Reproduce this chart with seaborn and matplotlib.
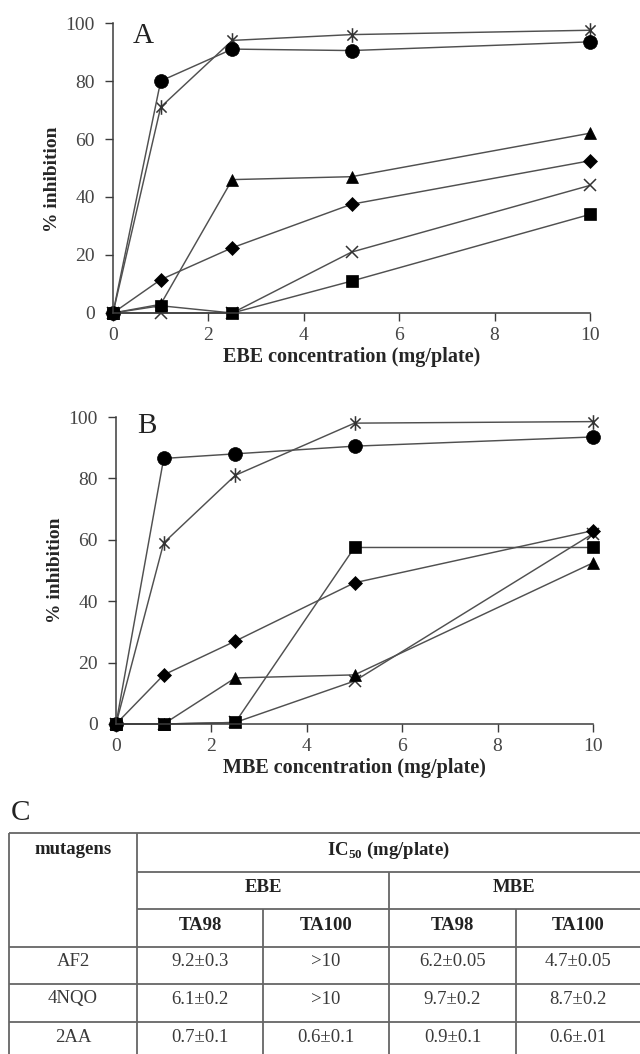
import matplotlib
matplotlib.use("Agg")
import matplotlib.pyplot as plt
from matplotlib.path import Path
import seaborn as sns

# --- data ---
conc = [0, 1, 2.5, 5, 10]

# panel A: EBE (% inhibition)
ebe_af2_ta98 = [0, 11.5, 22.5, 37.5, 52.5]
ebe_af2_ta100 = [0, 2.5, 0, 11, 34]
ebe_4nqo_ta98 = [0, 3, 46, 47, 62]
ebe_4nqo_ta100 = [0, 0, 0, 21, 44]
ebe_2aa_ta98 = [0, 71, 94, 96, 97.5]
ebe_2aa_ta100 = [0, 80, 91, 90.5, 93.5]

# panel B: MBE (% inhibition)
mbe_af2_ta98 = [0, 16, 27, 46, 63]
mbe_af2_ta100 = [0, 0, 0.5, 57.5, 57.5]
mbe_4nqo_ta98 = [0, 0, 15, 16, 52.5]
mbe_4nqo_ta100 = [0, 0, 0.5, 14, 62]
mbe_2aa_ta98 = [0, 59, 81, 98, 98.5]
mbe_2aa_ta100 = [0, 86.5, 88, 90.5, 93.5]

# panel C: IC50 table
mutagens = ["AF2", "4NQO", "2AA"]
ic50_ebe_ta98 = ["9.2\u00b10.3", "6.1\u00b10.2", "0.7\u00b10.1"]
ic50_ebe_ta100 = [">10", ">10", "0.6\u00b10.1"]
ic50_mbe_ta98 = ["6.2\u00b10.05", "9.7\u00b10.2", "0.9\u00b10.1"]
ic50_mbe_ta100 = ["4.7\u00b10.05", "8.7\u00b10.2", "0.6\u00b1.01"]

# --- style ---
sns.set_style("ticks")
plt.rcParams["font.family"] = ["Liberation Serif", "DejaVu Serif"]
plt.rcParams["mathtext.fontset"] = "custom"
plt.rcParams["mathtext.rm"] = "Liberation Serif"
plt.rcParams["mathtext.bf"] = "Liberation Serif:bold"

LINE = "#505050"
SPINE = "#3c3c3c"
TICKC = "#454545"

# excel-like star: vertical bar plus an x
star = Path([(0, -1), (0, 1), (-0.7, -0.7), (0.7, 0.7), (-0.7, 0.7), (0.7, -0.7)],
            [Path.MOVETO, Path.LINETO] * 3)

marker_style = {
    "4nqo_ta100": dict(marker="x", ms=8.5, mfc="none", mec="#333333", mew=1.1),
    "4nqo_ta98": dict(marker="^", ms=9, mfc="black", mec="black", mew=0.5),
    "af2_ta98": dict(marker="D", ms=7.2, mfc="black", mec="black", mew=0.5),
    "af2_ta100": dict(marker="s", ms=8.8, mfc="black", mec="black", mew=0.5),
    "2aa_ta98": dict(marker=star, ms=10.5, mfc="none", mec="#333333", mew=1.1),
    "2aa_ta100": dict(marker="o", ms=10, mfc="black", mec="black", mew=0.5),
}

panel_a = {"4nqo_ta100": ebe_4nqo_ta100, "4nqo_ta98": ebe_4nqo_ta98,
           "af2_ta98": ebe_af2_ta98, "af2_ta100": ebe_af2_ta100,
           "2aa_ta98": ebe_2aa_ta98, "2aa_ta100": ebe_2aa_ta100}
panel_b = {"4nqo_ta100": mbe_4nqo_ta100, "4nqo_ta98": mbe_4nqo_ta98,
           "af2_ta98": mbe_af2_ta98, "af2_ta100": mbe_af2_ta100,
           "2aa_ta98": mbe_2aa_ta98, "2aa_ta100": mbe_2aa_ta100}


def draw_panel(ax, series, xlabel, letter, letter_pos, ylab_y):
    for key, vals in series.items():
        sns.lineplot(x=conc, y=vals, ax=ax, color=LINE, lw=1.05,
                     clip_on=False, legend=False, errorbar=None,
                     **marker_style[key])
    ax.set_xlim(0, 10)
    ax.set_ylim(0, 100)
    ax.set_xticks(range(0, 11, 2))
    ax.set_yticks(range(0, 101, 20))
    sns.despine(ax=ax)
    for s in ("left", "bottom"):
        ax.spines[s].set_color(SPINE)
        ax.spines[s].set_linewidth(1.1)
    ax.tick_params(direction="out", length=6, width=1, color=SPINE,
                   labelcolor=TICKC, labelsize=14)
    ax.tick_params(axis="y", pad=7)
    ax.tick_params(axis="x", pad=4)
    ax.set_xlabel(xlabel, fontsize=14.5, fontweight="bold", labelpad=2)
    ax.set_ylabel("% inhibition", fontsize=14, fontweight="bold")
    ax.yaxis.set_label_coords(-0.108, ylab_y)
    ax.text(letter_pos[0], letter_pos[1], letter, transform=ax.transAxes,
            fontsize=21, ha="center", va="center", color="#222222")


fig = plt.figure(figsize=(6.4, 10.54), dpi=100)
W, H = 640, 1054
axA = fig.add_axes([113 / W, 1 - 313 / H, 477 / W, 290 / H])
axB = fig.add_axes([116 / W, 1 - 724 / H, 477 / W, 307 / H])

draw_panel(axA, panel_a, "EBE concentration (mg/plate)", "A", (0.063, 0.955), 0.46)
draw_panel(axB, panel_b, "MBE concentration (mg/plate)", "B", (0.065, 0.972), 0.5)

# --- table (pixel-like coordinates) ---
axT = fig.add_axes([0, 0, 1, 254 / H])
axT.set_xlim(0, W)
axT.set_ylim(H, 800)
axT.axis("off")

TL = dict(color="#666666", lw=1.3)
x_left, x_c1, x_c2, x_c3, x_c4, x_right = 9, 137, 263, 389, 516, 640
rows = [833, 872, 909, 947, 984, 1022]

axT.text(21, 813, "C", fontsize=21, ha="center", va="center", color="#222222")
axT.hlines([rows[0], rows[3], rows[4], rows[5]], x_left, x_right, **TL)
axT.hlines([rows[1], rows[2]], x_c1, x_right, **TL)
axT.vlines([x_left, x_c1], rows[0], H, **TL)
axT.vlines([x_c3], rows[1], H, **TL)
axT.vlines([x_c2, x_c4], rows[2], H, **TL)

bold = dict(fontsize=13.5, fontweight="bold", ha="center", va="center", color="#222222")
norm = dict(fontsize=13.5, ha="center", va="center", color="#3a3a3a")

axT.text((x_left + x_c1) / 2, 850, "mutagens", **bold)
axT.text((x_c1 + x_right) / 2, 850, r"IC$_{\mathbf{50}}$ (mg/plate)", **bold)
axT.text((x_c1 + x_c3) / 2, 888, "EBE", **bold)
axT.text((x_c3 + x_right) / 2, 888, "MBE", **bold)
col_centres = [(x_c1 + x_c2) / 2, (x_c2 + x_c3) / 2, (x_c3 + x_c4) / 2, (x_c4 + x_right) / 2]
for xc, lab in zip(col_centres, ["TA98", "TA100", "TA98", "TA100"]):
    axT.text(xc, 925, lab, **bold)

row_centres = [962, 999, 1037]
for i, yc in enumerate(row_centres):
    axT.text((x_left + x_c1) / 2, yc, mutagens[i], **norm)
    for xc, col in zip(col_centres, [ic50_ebe_ta98, ic50_ebe_ta100, ic50_mbe_ta98, ic50_mbe_ta100]):
        axT.text(xc, yc, col[i], **norm)

fig.savefig("out.png", dpi=100)
